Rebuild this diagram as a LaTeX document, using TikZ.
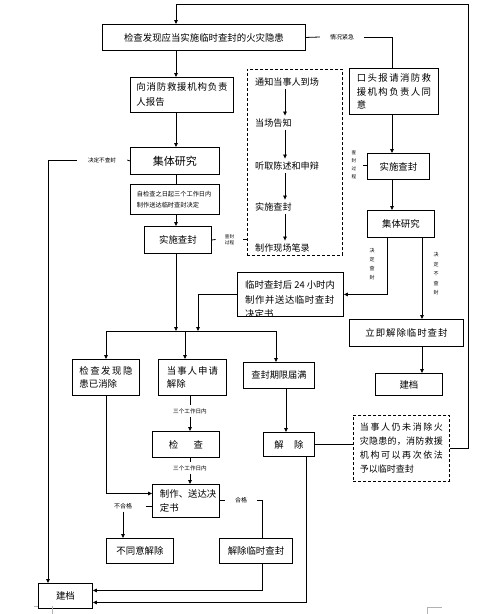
\documentclass[tikz,border=0pt]{standalone}
\usepackage{fontspec}
\setmainfont{Noto Sans CJK SC}
\usetikzlibrary{arrows.meta}
\makeatletter
\def\spr@aux#1#2\@nil{#1\ifx\relax#2\relax\else\hfill\spr@aux#2\@nil\fi}
\newcommand\spr[2]{\makebox[#1][s]{\spr@aux#2\@nil}}
\makeatother
\newcommand\fz[2]{\fontsize{#1}{#2}\selectfont}
\tikzset{
  box/.style={draw, line width=0.9pt, inner sep=0pt, anchor=north west, font=\fz{9.4}{13.5}},
  dbox/.style={draw, line width=0.9pt, dash pattern=on 3pt off 2pt, inner sep=0pt, anchor=north west},
  lbl/.style={inner sep=0pt, font=\fz{6}{7}},
  tiny/.style={inner sep=0pt, font=\fz{4.6}{6}, align=center},
  vlab/.style={inner sep=0pt, font=\fz{5}{9}, align=center},
  item/.style={anchor=west, inner sep=3pt, font=\fz{9.1}{11}},
  ln/.style={line width=0.8pt},
  arr/.style={line width=0.8pt, -{Triangle[length=4pt,width=3.6pt]}},
}
\begin{document}
\begin{tikzpicture}[x=1pt,y=-1pt]
\useasboundingbox (0,0) rectangle (492,614);
% column coordinates
\coordinate (colL) at (176,0);
\coordinate (colR) at (392,0);
\coordinate (cG) at (285,0);
\coordinate (cq) at (387,0);
\coordinate (cbq) at (422,0);
\coordinate (c48) at (48,0);
\coordinate (c106) at (106,0);
\coordinate (c185) at (185,0);
\coordinate (c276) at (276,0);
\coordinate (c190) at (190,0);
\coordinate (c198) at (198,0);
\coordinate (c262) at (262,0);
\coordinate (c286) at (286,0);
\coordinate (c306) at (306,0);
\coordinate (rx) at (468,0);
\coordinate (top) at (0,4);
\coordinate (busy) at (0,331);

% boxes
\node[box, minimum width=203pt, minimum height=26pt] (A) at (102,24) {检查发现应当实施临时查封的火灾隐患\hspace{13pt}};
\node[lbl, inner xsep=10pt] (K1) at (342,37) {情况紧急};
\node[box, minimum width=89pt, minimum height=46pt, text width=74pt, inner xsep=7pt, align=left] (B) at (349,68)
  {\spr{74pt}{口头报请消防救}\\\spr{74pt}{援机构负责人同}\\意};
\node[box, minimum width=103pt, minimum height=35pt, text width=91pt, align=left, font=\fz{9.4}{15}] (C) at (130,77)
  {\spr{91pt}{向消防救援机构负责}\\人报告};
\node[box, minimum width=89pt, minimum height=27pt, font=\fz{11}{13}] (D) at (130,147) {集体研究};
\node[lbl, inner xsep=11pt, font=\fz{5.6}{7}] (T5) at (102,160) {决定不查封};
\node[box, minimum width=89pt, minimum height=30pt, text width=76pt, align=left, font=\fz{6.2}{11}] (E) at (130,184)
  {自检查之日起三个工作日内\\制作送达临时查封决定};
\node[box, minimum width=67pt, minimum height=27pt] (F) at (144,226) {实施查封};
\node[tiny, inner xsep=9pt] (L1) at (229.5,239.5) {查封\\过程};

% dashed procedure box
\node[dbox, minimum width=95pt, minimum height=186pt] (G) at (247,69) {};
\node[item] (G1) at (252,82) {通知当事人到场};
\node[item] (G2) at (252,123) {当场告知};
\node[item] (G3) at (252,166) {听取陈述和申辩};
\node[item] (G4) at (252,207) {实施查封};
\node[item] (G5) at (252,248) {制作现场笔录};

% right column
\node[box, minimum width=62pt, minimum height=26pt] (H) at (367,153) {实施查封};
\node[tiny, inner xsep=6.5pt, font=\fz{4.6}{8}] (L2) at (354,165) {查\\封\\过\\程};
\node[box, minimum width=67pt, minimum height=27pt] (I) at (367,210) {集体研究};
\node[vlab] (V1) at (372,264.5) {决\\定\\查\\封};
\node[vlab, font=\fz{5}{9.5}] (V2) at (436,274) {决\\定\\不\\查\\封};
\node[box, minimum width=106pt, minimum height=44pt] (J) at (237,272) {};
\begin{scope}
\clip (J.north west) rectangle (J.south east);
\node[anchor=north west, inner sep=0pt, align=left, font=\fz{9.4}{14.5}] (Jt) at (245,280.5)
  {临时查封后 24 小时内\\\spr{89pt}{制作并送达临时查封}\\决定书};
\end{scope}
\node[box, minimum width=114pt, minimum height=27pt] (K) at (349,319) {\spr{82pt}{立即解除临时查封}\hspace{16pt}};
\node[box, minimum width=67pt, minimum height=22pt] (M) at (375,373) {建档};

% middle row
\node[box, minimum width=67pt, minimum height=36pt, text width=53pt, inner xsep=7pt, align=left] (P1) at (72,359)
  {\spr{53pt}{检查发现隐}\\患已消除};
\node[box, minimum width=68pt, minimum height=36pt, text width=51pt, inner xsep=8.5pt, align=left] (P2) at (158,359)
  {\spr{51pt}{当事人申请}\\解除};
\node[box, minimum width=71pt, minimum height=26pt, font=\fz{9.2}{11}] (P3) at (243,362) {查封期限届满};
\node[lbl, font=\fz{5.6}{7}, inner ysep=3pt] (T1) at (190,411) {三个工作日内};
\node[box, minimum width=67pt, minimum height=26pt] (Q) at (152,431) {检\hspace{15.6pt}查};
\node[lbl, font=\fz{5.6}{7}, inner ysep=3pt] (T2) at (190,468) {三个工作日内};
\node[box, minimum width=67pt, minimum height=33pt, text width=52pt, inner xsep=7.5pt, align=left] (R) at (152,484)
  {\spr{52pt}{制作、送达决}\\定书};
\node[lbl, inner xsep=14pt, inner ysep=3pt] (T3) at (123,506) {不合格};
\node[lbl, inner xsep=10pt] (T4) at (241,500) {合格};
\node[box, minimum width=67pt, minimum height=25pt] (S) at (106,538) {不同意解除\hspace{8pt}};
\node[box, minimum width=73pt, minimum height=25pt] (U) at (219,538) {解除临时查封};
\node[box, minimum width=51pt, minimum height=24pt] (W) at (263,432) {解\hspace{10.6pt}除};
\node[dbox, minimum width=96pt, minimum height=66pt, text width=83pt, inner xsep=6.5pt, align=left, font=\fz{9}{14}] (N) at (353,415)
  {\spr{83pt}{当事人仍未消除火}\\\spr{83pt}{灾隐患的，消防救援}\\\spr{83pt}{机构可以再次依法}\\予以临时查封};
\node[box, minimum width=54pt, minimum height=25pt] (V) at (38,583) {建档\hspace{16pt}};

% connectors
\draw[arr] (N.east) -| (rx |- top) -- (colL |- top) -- (colL |- A.north);
\draw[ln] (A.east) -- (K1.west);
\draw[ln] (K1.east) -| (colR |- B.north);
\draw[arr] (colL |- A.south) -- (colL |- C.north);
\draw[arr] (colL |- C.south) -- (colL |- D.north);
\draw[ln] (colL |- D.south) -- (colL |- E.north);
\draw[arr] (colL |- E.south) -- (colL |- F.north);
\draw[ln] (F.east) -- (L1.west);
\draw[ln] (L1.east) -- (L1.east -| G.west);
\draw[arr] (cG |- G1.south) -- (cG |- G2.north);
\draw[arr] (cG |- G2.south) -- (cG |- G3.north);
\draw[arr] (cG |- G3.south) -- (cG |- G4.north);
\draw[arr] (cG |- G4.south) -- (cG |- G5.north);
\draw[arr] (colR |- B.south) -- (colR |- H.north);
\draw[arr] (colR |- H.south) -- (colR |- I.north);
\draw[ln] (L2.east) -- (L2.east -| H.west);
\draw[arr] (cq |- I.south) |- (J.east);
\draw[arr] (cbq |- I.south) -- (cbq |- K.north);
\draw[arr] (cbq |- K.south) -- (cbq |- M.north);
\draw[arr] (colL |- F.south) -- (colL |- busy);
\draw[arr] (J.west) -| (c198 |- busy);
\draw[ln] (c106 |- busy) -- (c276 |- busy);
\draw[arr] (c106 |- busy) -- (c106 |- P1.north);
\draw[arr] (c185 |- busy) -- (c185 |- P2.north);
\draw[arr] (c276 |- busy) -- (c276 |- P3.north);
\draw[ln] (c190 |- P2.south) -- (T1.north);
\draw[arr] (T1.south) -- (c190 |- Q.north);
\draw[ln] (c190 |- Q.south) -- (T2.north);
\draw[arr] (T2.south) -- (c190 |- R.north);
\draw[arr] (c106 |- P1.south) |- ([yshift=7.5pt]R.west);
\draw[ln] (T3.east -| R.west) -- (T3.east);
\draw[arr] (T3.south) -- (T3.south |- S.north);
\draw[ln] (T4.west -| R.east) -- (T4.west);
\draw[ln] (T4.east) -| (c262 |- U.north);
\draw[arr] (c262 |- U.south) |- ([yshift=5.5pt]V.east);
\draw[arr] (c286 |- P3.south) -- (c286 |- W.north);
\draw[ln] (W.east) -- (W.east -| N.west);
\draw[arr] (c306 |- W.south) |- ([yshift=-6.5pt]V.east);
\draw[ln] (D.west) -- (T5.east);
\draw[arr] (T5.west) -| (c48 |- V.north);

% page crop marks
\draw[gray!60, line width=0.5pt] (427,614) -- (427,607) -- (442,607);
\draw[gray!60, line width=0.5pt] (34,606) -- (38,606);
\draw[gray!60, line width=0.5pt] (52,606) -- (52,614);
\end{tikzpicture}
\end{document}
